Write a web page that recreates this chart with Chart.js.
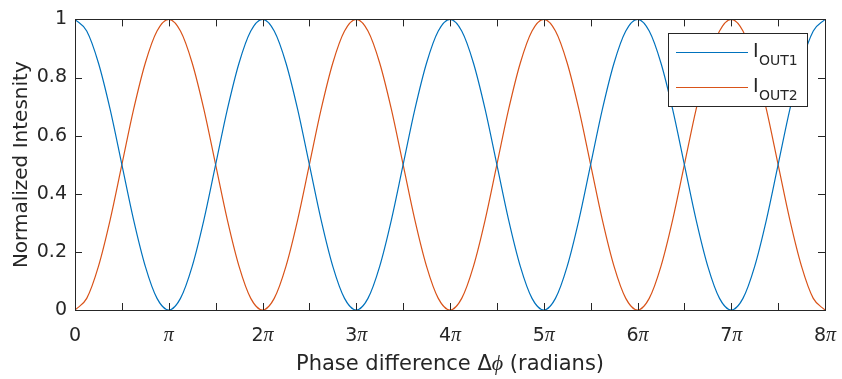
<!DOCTYPE html>
<html>
<head>
<meta charset="utf-8">
<script src="https://cdn.jsdelivr.net/npm/chart.js@4"></script>
<style>
  html, body { margin: 0; padding: 0; background: #fff; }
</style>
</head>
<body>
<canvas id="myChart" width="842" height="379"></canvas>
<script>
// phase difference in units of pi (0 ... 8pi, step pi/8)
const phase = [
  0, 0.125, 0.25, 0.375, 0.5, 0.625, 0.75, 0.875,
  1, 1.125, 1.25, 1.375, 1.5, 1.625, 1.75, 1.875,
  2, 2.125, 2.25, 2.375, 2.5, 2.625, 2.75, 2.875,
  3, 3.125, 3.25, 3.375, 3.5, 3.625, 3.75, 3.875,
  4, 4.125, 4.25, 4.375, 4.5, 4.625, 4.75, 4.875,
  5, 5.125, 5.25, 5.375, 5.5, 5.625, 5.75, 5.875,
  6, 6.125, 6.25, 6.375, 6.5, 6.625, 6.75, 6.875,
  7, 7.125, 7.25, 7.375, 7.5, 7.625, 7.75, 7.875,
  8
];

const iOut1 = [
  1, 0.96, 0.85, 0.69, 0.5, 0.31, 0.15, 0.04, 0, 0.04, 0.15, 0.31, 0.5, 0.69, 0.85, 0.96,
  1, 0.96, 0.85, 0.69, 0.5, 0.31, 0.15, 0.04, 0, 0.04, 0.15, 0.31, 0.5, 0.69, 0.85, 0.96,
  1, 0.96, 0.85, 0.69, 0.5, 0.31, 0.15, 0.04, 0, 0.04, 0.15, 0.31, 0.5, 0.69, 0.85, 0.96,
  1, 0.96, 0.85, 0.69, 0.5, 0.31, 0.15, 0.04, 0, 0.04, 0.15, 0.31, 0.5, 0.69, 0.85, 0.96,
  1
];

const iOut2 = [
  0, 0.04, 0.15, 0.31, 0.5, 0.69, 0.85, 0.96, 1, 0.96, 0.85, 0.69, 0.5, 0.31, 0.15, 0.04,
  0, 0.04, 0.15, 0.31, 0.5, 0.69, 0.85, 0.96, 1, 0.96, 0.85, 0.69, 0.5, 0.31, 0.15, 0.04,
  0, 0.04, 0.15, 0.31, 0.5, 0.69, 0.85, 0.96, 1, 0.96, 0.85, 0.69, 0.5, 0.31, 0.15, 0.04,
  0, 0.04, 0.15, 0.31, 0.5, 0.69, 0.85, 0.96, 1, 0.96, 0.85, 0.69, 0.5, 0.31, 0.15, 0.04,
  0
];

const xTickLabels = ['0', 'π', '2π', '3π', '4π', '5π', '6π', '7π', '8π'];
const seriesNames = ['OUT1', 'OUT2'];   // shown as I with subscript
const seriesColors = ['#0072BD', '#D95319'];

const SANS = '"DejaVu Sans", sans-serif';
const SERIF = '"Liberation Serif", "DejaVu Serif", serif';
const TXT = '#262626';

// draws a string made of [text, font] pieces centred on cx
function drawPieces(ctx, pieces, cx, baseY) {
  let w = 0;
  pieces.forEach(p => { ctx.font = p[1]; w += ctx.measureText(p[0]).width; });
  let px = cx - w / 2;
  pieces.forEach(p => {
    ctx.font = p[1];
    ctx.fillText(p[0], px, baseY);
    px += ctx.measureText(p[0]).width;
  });
}

// MATLAB-like box, inward ticks, labels and legend
const matlabAxes = {
  id: 'matlabAxes',
  afterDatasetsDraw(chart) {
    const { ctx, chartArea: a, scales: { x, y } } = chart;
    ctx.save();
    ctx.strokeStyle = TXT;
    ctx.lineWidth = 1;

    // box
    ctx.strokeRect(Math.round(a.left) + 0.5, Math.round(a.top) + 0.5,
                   Math.round(a.right - a.left), Math.round(a.bottom - a.top));

    // x ticks (every pi/2), inward on top and bottom
    ctx.beginPath();
    for (let v = 0; v <= 8; v += 0.5) {
      const px = Math.round(x.getPixelForValue(v)) + 0.5;
      ctx.moveTo(px, a.bottom); ctx.lineTo(px, a.bottom - 7);
      ctx.moveTo(px, a.top); ctx.lineTo(px, a.top + 7);
    }
    // y ticks (every 0.2), inward on left and right
    for (let v = 0; v <= 1.0001; v += 0.2) {
      const py = Math.round(y.getPixelForValue(v)) + 0.5;
      ctx.moveTo(a.left, py); ctx.lineTo(a.left + 7, py);
      ctx.moveTo(a.right, py); ctx.lineTo(a.right - 7, py);
    }
    ctx.stroke();

    // x tick labels: digit in sans, pi in serif italic
    ctx.fillStyle = TXT;
    ctx.textBaseline = 'alphabetic';
    ctx.textAlign = 'left';
    xTickLabels.forEach((lab, i) => {
      const cx = x.getPixelForValue(i);
      const pieces = [];
      if (lab.endsWith('π')) {
        if (lab.length > 1) pieces.push([lab.slice(0, -1), '19px ' + SANS]);
        pieces.push(['π', 'italic 20px ' + SERIF]);
      } else {
        pieces.push([lab, '19px ' + SANS]);
      }
      drawPieces(ctx, pieces, cx, 341);
    });

    // x title
    drawPieces(ctx, [
      ['Phase difference Δ', '21px ' + SANS],
      ['ϕ', 'italic 22px ' + SERIF],
      [' (radians)', '21px ' + SANS]
    ], (a.left + a.right) / 2, 370);

    // y title
    ctx.save();
    ctx.translate(27, (a.top + a.bottom) / 2);
    ctx.rotate(-Math.PI / 2);
    ctx.textAlign = 'center';
    ctx.font = '20px ' + SANS;
    ctx.fillText('Normalized Intesnity', 0, 0);
    ctx.restore();

    // legend
    const lx = 668, ly = 33, lw = 139, lh = 73;
    ctx.fillStyle = '#fff';
    ctx.fillRect(lx, ly, lw, lh);
    ctx.strokeStyle = TXT;
    ctx.strokeRect(lx + 0.5, ly + 0.5, lw, lh);
    seriesNames.forEach((nm, i) => {
      const rowY = 52 + i * 35;
      ctx.strokeStyle = seriesColors[i];
      ctx.lineWidth = 1.2;
      ctx.beginPath();
      ctx.moveTo(676, rowY + 0.5); ctx.lineTo(748, rowY + 0.5);
      ctx.stroke();
      ctx.fillStyle = TXT;
      ctx.textAlign = 'left';
      ctx.font = '19px ' + SANS;
      ctx.fillText('I', 753, rowY + 5);
      ctx.font = '14px ' + SANS;
      ctx.fillText(nm, 759, rowY + 13);
    });
    ctx.restore();
  }
};

const config = {
  type: 'line',
  data: {
    datasets: [
      {
        label: 'I_OUT1',
        data: phase.map((p, i) => ({ x: p, y: iOut1[i] })),
        borderColor: seriesColors[0],
        borderWidth: 1.2,
        pointRadius: 0,
        cubicInterpolationMode: 'monotone'
      },
      {
        label: 'I_OUT2',
        data: phase.map((p, i) => ({ x: p, y: iOut2[i] })),
        borderColor: seriesColors[1],
        borderWidth: 1.2,
        pointRadius: 0,
        cubicInterpolationMode: 'monotone'
      }
    ]
  },
  options: {
    responsive: false,
    animation: false,
    layout: { padding: { top: 18, right: 17, left: 0, bottom: 0 } },
    plugins: { legend: { display: false }, tooltip: { enabled: false } },
    scales: {
      x: {
        type: 'linear',
        min: 0,
        max: 8,
        grid: { display: false },
        border: { display: false },
        ticks: { display: false },
        afterFit: s => { s.height = 69; }
      },
      y: {
        min: 0,
        max: 1,
        grid: { display: false, drawTicks: false },
        border: { display: false },
        ticks: {
          stepSize: 0.2,
          padding: 8,
          color: TXT,
          font: { family: SANS, size: 19 },
          callback: v => String(Math.round(v * 10) / 10)
        },
        afterFit: s => { s.width = 75; }
      }
    }
  },
  plugins: [matlabAxes]
};

new Chart(document.querySelector('#myChart').getContext('2d'), config);
</script>
</body>
</html>
